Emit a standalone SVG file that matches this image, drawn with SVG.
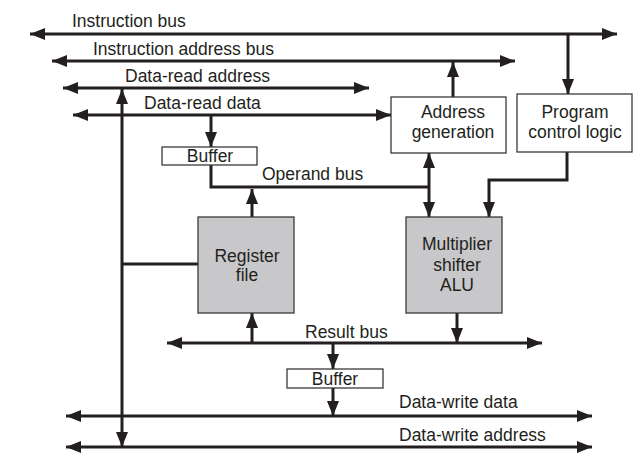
<svg xmlns="http://www.w3.org/2000/svg" width="644" height="455" viewBox="0 0 644 455">
<defs>
<marker id="ah" markerUnits="userSpaceOnUse" markerWidth="16" markerHeight="12" refX="15" refY="6" orient="auto-start-reverse">
<path d="M0,0 L15,6 L0,12 Z" fill="#231f20"/>
</marker>
<style>
.bus{fill:none;stroke:#231f20;stroke-width:3;}
.two{marker-start:url(#ah);marker-end:url(#ah);}
.one{marker-end:url(#ah);}
.box{fill:#fff;stroke:#3a3a3a;stroke-width:1.3;}
.gray{fill:#c8c8ca;stroke:#3a3a3a;stroke-width:1.3;}
text{font-family:"Liberation Sans",Arial,sans-serif;font-size:17.5px;fill:#231f20;}
.c{text-anchor:middle;}
</style>
</defs>
<rect width="644" height="455" fill="#fff"/>
<g id="connectors">
<line class="bus two" x1="30" y1="34" x2="617" y2="34"/>
<line class="bus two" x1="52" y1="61" x2="515" y2="61"/>
<line class="bus two" x1="63" y1="88" x2="369" y2="88"/>
<line class="bus two" x1="73" y1="115" x2="391" y2="115"/>
<line class="bus one" x1="568" y1="34" x2="568" y2="94"/>
<line class="bus one" x1="453" y1="97" x2="453" y2="62"/>
<line class="bus one" x1="211" y1="115" x2="211" y2="147"/>
<line class="bus two" x1="122" y1="89" x2="122" y2="447"/>
<line class="bus" x1="122" y1="264" x2="198" y2="264"/>
<polyline class="bus" points="211,165 211,187 429,187"/>
<line class="bus two" x1="429" y1="153" x2="429" y2="217"/>
<line class="bus one" x1="252" y1="217" x2="252" y2="189"/>
<polyline class="bus one" points="567,152 567,180 489,180 489,217"/>
<line class="bus one" x1="457" y1="313" x2="457" y2="343"/>
<line class="bus two" x1="167" y1="343" x2="542" y2="343"/>
<line class="bus one" x1="252" y1="343" x2="252" y2="313"/>
<line class="bus one" x1="333" y1="343" x2="333" y2="369"/>
<line class="bus one" x1="333" y1="388" x2="333" y2="416"/>
<line class="bus two" x1="66" y1="416" x2="592" y2="416"/>
<line class="bus two" x1="66" y1="447" x2="592" y2="447"/>
</g>
<g id="labels">
<text x="72" y="27">Instruction bus</text>
<text x="93" y="55">Instruction address bus</text>
<text x="125" y="82">Data-read address</text>
<text x="144" y="109">Data-read data</text>
<text x="262" y="180">Operand bus</text>
<text x="305" y="338">Result bus</text>
<text x="399" y="408">Data-write data</text>
<text x="399" y="441">Data-write address</text>
</g>
<g id="address-generation">
<rect class="box" x="391" y="97" width="115" height="56"/>
<text class="c" x="453" y="118">Address</text>
<text class="c" x="453" y="138">generation</text>
</g>
<g id="program-control-logic">
<rect class="box" x="517" y="94" width="115" height="58"/>
<text class="c" x="575" y="118">Program</text>
<text class="c" x="575" y="138">control logic</text>
</g>
<g id="buffer-1">
<rect class="box" x="162" y="147" width="95" height="18"/>
<text class="c" x="210" y="162">Buffer</text>
</g>
<g id="register-file">
<rect class="gray" x="198" y="217" width="96" height="96"/>
<text class="c" x="247" y="262">Register</text>
<text class="c" x="247" y="281">file</text>
</g>
<g id="multiplier-shifter-alu">
<rect class="gray" x="406" y="217" width="96" height="96"/>
<text class="c" x="457" y="250">Multiplier</text>
<text class="c" x="457" y="271">shifter</text>
<text class="c" x="457" y="291">ALU</text>
</g>
<g id="buffer-2">
<rect class="box" x="287" y="369" width="96" height="19"/>
<text class="c" x="335" y="385">Buffer</text>
</g>
</svg>
